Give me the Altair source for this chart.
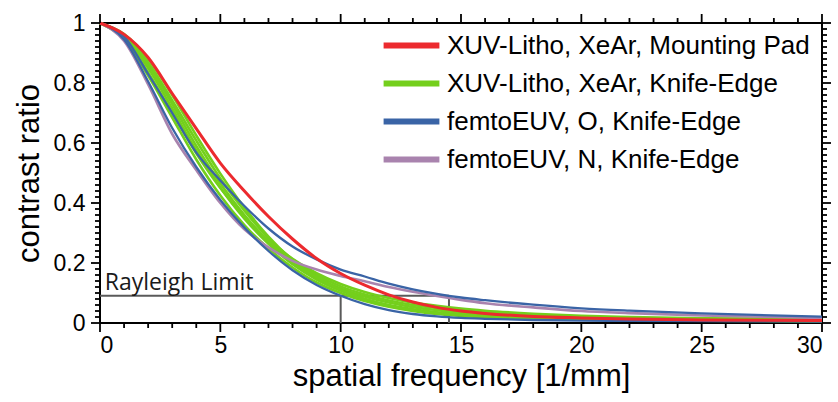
import altair as alt
import pandas as pd

# ---------------- data ----------------
x_vals = [0, 1, 2, 3, 4, 5, 6, 7, 8, 9, 10, 11, 12, 13, 14, 15, 16, 18, 20, 22, 25, 30]

red_pad = [1.0, 0.962, 0.885, 0.765, 0.648, 0.533, 0.44, 0.355, 0.28, 0.215, 0.165, 0.126, 0.094, 0.07, 0.052, 0.04, 0.032, 0.022, 0.017, 0.013, 0.010, 0.008]

green_1 = [1.0, 0.946, 0.825, 0.685, 0.545, 0.425, 0.326, 0.248, 0.185, 0.135, 0.1, 0.073, 0.054, 0.04, 0.03, 0.024, 0.019, 0.014, 0.011, 0.009, 0.008, 0.006]
green_2 = [1.0, 0.952, 0.85, 0.715, 0.575, 0.452, 0.348, 0.264, 0.196, 0.145, 0.108, 0.08, 0.06, 0.046, 0.036, 0.029, 0.024, 0.017, 0.013, 0.011, 0.009, 0.007]
green_3 = [1.0, 0.955, 0.86, 0.73, 0.59, 0.465, 0.36, 0.272, 0.203, 0.152, 0.115, 0.088, 0.068, 0.053, 0.043, 0.035, 0.029, 0.021, 0.016, 0.013, 0.011, 0.009]
green_4 = [1.0, 0.958, 0.868, 0.742, 0.608, 0.482, 0.374, 0.283, 0.212, 0.16, 0.122, 0.095, 0.075, 0.06, 0.05, 0.041, 0.035, 0.026, 0.02, 0.016, 0.013, 0.011]
green_5 = [1.0, 0.948, 0.835, 0.70, 0.566, 0.45, 0.353, 0.275, 0.214, 0.166, 0.13, 0.103, 0.083, 0.068, 0.057, 0.048, 0.041, 0.031, 0.024, 0.02, 0.016, 0.013]
green_6 = [1.0, 0.963, 0.88, 0.76, 0.625, 0.498, 0.385, 0.288, 0.21, 0.152, 0.11, 0.08, 0.058, 0.043, 0.033, 0.026, 0.021, 0.016, 0.012, 0.01, 0.008, 0.007]

blue_o_1 = [1.0, 0.955, 0.83, 0.70, 0.568, 0.475, 0.39, 0.315, 0.255, 0.212, 0.178, 0.155, 0.131, 0.112, 0.097, 0.085, 0.076, 0.061, 0.049, 0.041, 0.032, 0.021]
blue_o_2 = [1.0, 0.945, 0.805, 0.65, 0.52, 0.41, 0.318, 0.24, 0.176, 0.127, 0.091, 0.063, 0.043, 0.03, 0.022, 0.017, 0.014, 0.010, 0.008, 0.007, 0.006, 0.005]

purple_n = [1.0, 0.94, 0.795, 0.63, 0.51, 0.4, 0.312, 0.252, 0.207, 0.178, 0.157, 0.139, 0.12, 0.104, 0.09, 0.077, 0.066, 0.052, 0.04, 0.033, 0.025, 0.017]

groups = ["XUV-Litho, XeAr, Mounting Pad", "XUV-Litho, XeAr, Knife-Edge",
          "femtoEUV, O, Knife-Edge", "femtoEUV, N, Knife-Edge"]
colors = ["#ec2a2e", "#74cf1c", "#3a64a6", "#a983ae"]

rayleigh_value = 0.091
rayleigh_x = [10, 14.5]
rayleigh_label = "Rayleigh Limit"

x_major_ticks = [0, 5, 10, 15, 20, 25, 30]
x_minor_ticks = [v for v in range(0, 31) if v % 5 != 0]
y_major_ticks = [0, 0.2, 0.4, 0.6, 0.8, 1]
y_minor_ticks = [round(i * 0.02, 2) for i in range(51) if i % 10 != 0]

curve_sets = {
    groups[1]: [("g1", green_1), ("g2", green_2), ("g3", green_3),
                ("g4", green_4), ("g5", green_5), ("g6", green_6)],
    groups[3]: [("p1", purple_n)],
    groups[2]: [("b1", blue_o_1), ("b2", blue_o_2)],
    groups[0]: [("r1", red_pad)],
}


def group_frame(grp):
    rows = []
    for cid, vals in curve_sets[grp]:
        for xv, yv in zip(x_vals, vals):
            rows.append({"group": grp, "curve": cid, "x": xv, "y": yv})
    return pd.DataFrame(rows)


ray_h = pd.DataFrame({"x": [0], "x2": [max(rayleigh_x)], "y": [rayleigh_value]})
ray_v = pd.DataFrame({"x": rayleigh_x, "y": [0, 0], "y2": [rayleigh_value] * 2})
ray_t = pd.DataFrame({"x": [0.2], "y": [rayleigh_value], "t": [rayleigh_label]})

# ---------------- axes ----------------
FONT = "Liberation Sans"
W, H = 722, 300
x_scale = alt.Scale(domain=[0, 30], nice=False, zero=False)
y_scale = alt.Scale(domain=[0, 1], nice=False, zero=False)

x_axis = alt.Axis(values=x_major_ticks, orient="bottom", ticks=False, domain=False, grid=False,
                  format="~g", labelFont=FONT, labelFontSize=23, labelPadding=11,
                  title="spatial frequency [1/mm]", titleFont=FONT, titleFontSize=31,
                  titleFontWeight="normal", titlePadding=4)
y_axis = alt.Axis(values=y_major_ticks, orient="left", ticks=False, domain=False, grid=False,
                  format="~g", labelFont=FONT, labelFontSize=23, labelPadding=15,
                  title="contrast ratio", titleFont=FONT, titleFontSize=31,
                  titleFontWeight="normal", titlePadding=8)

color_enc = alt.Color("group:N", scale=alt.Scale(domain=groups, range=colors),
                      legend=alt.Legend(orient="none", legendX=293, legendY=4, title=None,
                                        symbolType="M-1.8,0H1.8", symbolStrokeWidth=6,
                                        symbolSize=961,
                                        labelFont=FONT, labelFontSize=26,
                                        labelOffset=17, rowPadding=6, labelLimit=600))


def curve_layer(grp, width):
    return alt.Chart(group_frame(grp)).mark_line(interpolate="monotone", strokeWidth=width).encode(
        x=alt.X("x:Q", scale=x_scale, axis=x_axis),
        y=alt.Y("y:Q", scale=y_scale, axis=y_axis),
        color=color_enc,
        detail="curve:N",
    )


h_rule = alt.Chart(ray_h).mark_rule(color="#5a5a5a", strokeWidth=2).encode(
    x=alt.X("x:Q", scale=x_scale, axis=x_axis), x2="x2:Q",
    y=alt.Y("y:Q", scale=y_scale, axis=y_axis))
v_rule = alt.Chart(ray_v).mark_rule(color="#5a5a5a", strokeWidth=2).encode(
    x=alt.X("x:Q", scale=x_scale, axis=x_axis),
    y=alt.Y("y:Q", scale=y_scale, axis=y_axis), y2="y2:Q")
ray_text = alt.Chart(ray_t).mark_text(align="left", baseline="alphabetic", dy=-6,
                                      font="Open Sans", fontSize=23, color="#1a1a1a").encode(
    x=alt.X("x:Q", scale=x_scale, axis=x_axis),
    y=alt.Y("y:Q", scale=y_scale, axis=y_axis), text="t:N")


# ---------------- tick marks on all four sides ----------------
def x_ticks_layer(vals, y0, y1):
    return alt.Chart(pd.DataFrame({"v": vals})).mark_rule(color="black", strokeWidth=1.8).encode(
        x=alt.X("v:Q", scale=x_scale, axis=x_axis), y=alt.value(y0), y2=alt.value(y1))


def y_ticks_layer(vals, x0, x1):
    return alt.Chart(pd.DataFrame({"w": vals})).mark_rule(color="black", strokeWidth=1.8).encode(
        y=alt.Y("w:Q", scale=y_scale, axis=y_axis), x=alt.value(x0), x2=alt.value(x1))


tick_layers = [
    x_ticks_layer(x_major_ticks, H, H + 9), x_ticks_layer(x_minor_ticks, H, H + 5),
    x_ticks_layer(x_major_ticks, 0, -9), x_ticks_layer(x_minor_ticks, 0, -5),
    y_ticks_layer(y_major_ticks, 0, -9), y_ticks_layer(y_minor_ticks, 0, -5),
    y_ticks_layer(y_major_ticks, W, W + 9), y_ticks_layer(y_minor_ticks, W, W + 5),
]

chart = alt.layer(
    h_rule, v_rule, ray_text,
    curve_layer(groups[1], 2.6),
    curve_layer(groups[3], 2.6),
    curve_layer(groups[2], 2.3),
    curve_layer(groups[0], 3),
    *tick_layers,
).properties(
    width=W, height=H,
    padding={"left": 100, "top": 23, "right": 16, "bottom": 79},
    autosize=alt.AutoSizeParams(type="none"),
).configure_view(stroke="black", strokeWidth=2)

chart.save("out.html", embed_options={"renderer": "svg", "actions": False})
